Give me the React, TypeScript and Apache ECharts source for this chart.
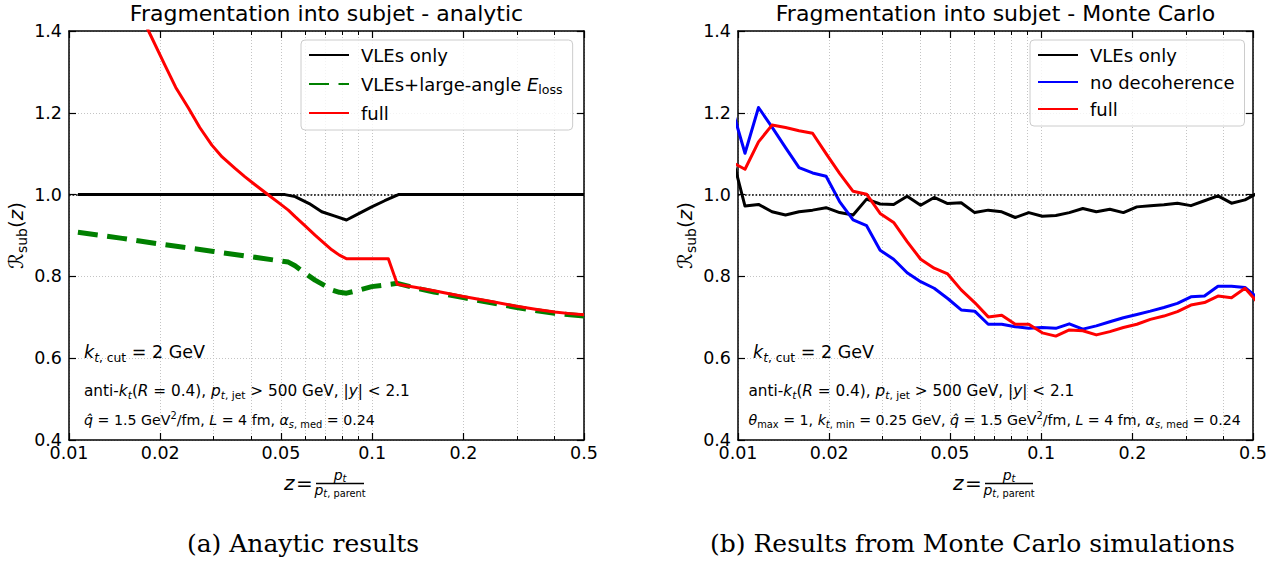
import React, { useEffect, useRef } from 'react';
import * as echarts from 'echarts';

const FONT = "'DejaVu Sans', 'Noto Sans', sans-serif";
const SERIF = "'DejaVu Serif', 'Liberation Serif', serif";

// ---------- axes ----------
const X_MIN = 0.01;
const X_MAX = 0.5;
const Y_MIN = 0.4;
const Y_MAX = 1.4;
const Y_STEP = 0.2;
const xMajorTicks = [0.01, 0.02, 0.05, 0.1, 0.2, 0.5];
const xMajorLabels = ['0.01', '0.02', '0.05', '0.1', '0.2', '0.5'];
const xMinorTicks = [0.03, 0.04, 0.06, 0.07, 0.08, 0.09, 0.3, 0.4];
const referenceLevel = 1.0;

// ---------- texts ----------
const titles = ['Fragmentation into subjet - analytic', 'Fragmentation into subjet - Monte Carlo'];
const captions = ['(a) Anaytic results', '(b) Results from Monte Carlo simulations'];
const legendAnalytic = ['VLEs only', 'VLEs+large-angle E_loss', 'full'];
const legendMC = ['VLEs only', 'no decoherence', 'full'];

// ---------- (a) analytic ----------
const anaVlesZ = [0.0107, 0.03, 0.0516, 0.0557, 0.062, 0.0682, 0.075, 0.0823, 0.09, 0.0997, 0.11, 0.1221, 0.25, 0.5];
const anaVlesR = [1.0, 1.0, 1.0, 0.995, 0.978, 0.958, 0.948, 0.938, 0.953, 0.97, 0.985, 1.0, 1.0, 1.0];

const anaLargeAngleZ = [0.0107, 0.015, 0.02, 0.03, 0.04, 0.0529, 0.0557, 0.06, 0.0648, 0.07, 0.0736, 0.078, 0.0823, 0.09, 0.0997, 0.1211, 0.14, 0.16, 0.2, 0.25, 0.3, 0.35, 0.4, 0.45, 0.5];
const anaLargeAngleR = [0.908, 0.893, 0.879, 0.861, 0.848, 0.835, 0.826, 0.808, 0.791, 0.777, 0.767, 0.761, 0.759, 0.766, 0.775, 0.783, 0.771, 0.762, 0.748, 0.735, 0.724, 0.716, 0.71, 0.706, 0.703];

const anaFullZ = [0.0107, 0.015, 0.0165, 0.0183, 0.0207, 0.0225, 0.0248, 0.027, 0.0296, 0.032, 0.0353, 0.038, 0.0411, 0.0455, 0.049, 0.0529, 0.0557, 0.06, 0.0648, 0.07, 0.0736, 0.078, 0.0825, 0.1131, 0.1211, 0.14, 0.16, 0.2, 0.25, 0.3, 0.35, 0.4, 0.45, 0.5];
const anaFullR = [1.8, 1.56, 1.47, 1.4, 1.317, 1.262, 1.211, 1.164, 1.121, 1.092, 1.064, 1.044, 1.024, 0.999, 0.981, 0.962, 0.946, 0.924, 0.901, 0.879, 0.865, 0.852, 0.843, 0.843, 0.781, 0.773, 0.765, 0.751, 0.738, 0.727, 0.719, 0.713, 0.709, 0.706];

// ---------- (b) Monte Carlo (log-spaced bins) ----------
const mcZ = [0.009517, 0.010546, 0.011686, 0.01295, 0.014349, 0.0159, 0.01762, 0.019525, 0.021632, 0.023972,
  0.026563, 0.029435, 0.032618, 0.036141, 0.040049, 0.044379, 0.049177, 0.054487, 0.060378, 0.066906,
  0.07414, 0.082156, 0.09103, 0.100879, 0.111786, 0.12388, 0.137258, 0.152105, 0.16855, 0.18678,
  0.206966, 0.229298, 0.254097, 0.281578, 0.312033, 0.345745, 0.383174, 0.42462, 0.470543, 0.521404];
const mcVles = [1.1, 0.972, 0.976, 0.958, 0.95, 0.958, 0.962, 0.968, 0.956, 0.95,
  0.989, 0.977, 0.976, 0.996, 0.974, 0.993, 0.978, 0.98, 0.956, 0.962,
  0.958, 0.944, 0.956, 0.947, 0.949, 0.956, 0.966, 0.958, 0.964, 0.956,
  0.97, 0.973, 0.975, 0.979, 0.973, 0.985, 0.997, 0.979, 0.987, 1.005];
const mcNoDecoherence = [1.215, 1.101, 1.213, 1.165, 1.115, 1.066, 1.053, 1.045, 0.983, 0.938,
  0.924, 0.864, 0.842, 0.809, 0.787, 0.771, 0.746, 0.718, 0.715, 0.683,
  0.683, 0.677, 0.673, 0.675, 0.673, 0.684, 0.671, 0.679, 0.689, 0.699,
  0.707, 0.715, 0.724, 0.734, 0.75, 0.752, 0.776, 0.776, 0.773, 0.746];
const mcFull = [1.08, 1.062, 1.129, 1.17, 1.164, 1.156, 1.15, 1.1, 1.052, 1.008,
  1.001, 0.954, 0.932, 0.885, 0.842, 0.82, 0.806, 0.767, 0.736, 0.701,
  0.705, 0.683, 0.683, 0.662, 0.654, 0.669, 0.667, 0.657, 0.665, 0.675,
  0.683, 0.695, 0.703, 0.714, 0.73, 0.736, 0.752, 0.748, 0.771, 0.734];

// ---------- layout ----------
const GRIDS = [
  { left: 69, top: 31, width: 515, height: 409 },
  { left: 738, top: 31, width: 515, height: 409 },
];

const pairs = (zs: number[], rs: number[]) => zs.map((z, i) => [Math.log10(z), rs[i]]);

function mathRich(F: number, colorKey: 'fill' | 'color') {
  const S = Math.round(F * 0.7 * 10) / 10;
  const pad = Math.round(F * 0.6);
  const base: any = { fontFamily: FONT };
  base[colorKey] = '#000';
  return {
    n: { ...base, fontSize: F },
    i: { ...base, fontSize: F, fontStyle: 'italic' },
    cal: { ...base, fontSize: F },
    s: { ...base, fontSize: S, lineHeight: S, padding: [pad, 0, 0, 0] },
    si: { ...base, fontSize: S, lineHeight: S, fontStyle: 'italic', padding: [pad, 0, 0, 0] },
    p: { ...base, fontSize: S, lineHeight: S, padding: [0, 0, pad, 0] },
  };
}

function txt(x: number, y: number, text: string, F: number, align = 'left', extra: any = {}, family = FONT) {
  return {
    type: 'text',
    x,
    y,
    silent: true,
    z: 100,
    ...extra,
    style: {
      text,
      fontSize: F,
      fontFamily: family,
      fill: '#000',
      align,
      verticalAlign: 'middle',
      rich: mathRich(F, 'fill'),
    },
  };
}

const App: React.FC = () => {
  const ref = useRef<HTMLDivElement>(null);

  useEffect(() => {
    document.body.style.margin = '0';
    if (!ref.current) return;
    const chart = echarts.init(ref.current, undefined, { renderer: 'svg' });

    const majors = xMajorTicks.map((v) => Math.log10(v));
    const minors = xMinorTicks.map((v) => Math.log10(v));
    const labelFor = (v: number) => {
      const i = majors.findIndex((m) => Math.abs(m - v) < 1e-6);
      return i >= 0 ? xMajorLabels[i] : '';
    };
    const splitLineStyle = { color: '#c4c4c4', width: 1, type: [1, 2] };
    const spine = { show: true, onZero: false, lineStyle: { color: '#000', width: 1.5 } };
    const majorTick = { show: true, inside: true, length: 7, customValues: majors, lineStyle: { color: '#000', width: 1.2 } };
    const minorTick = { show: true, inside: true, length: 4, customValues: minors, lineStyle: { color: '#000', width: 1 } };

    const xAxes: any[] = [];
    const yAxes: any[] = [];
    GRIDS.forEach((_, g) => {
      const common = { type: 'value', gridIndex: g, min: Math.log10(X_MIN), max: Math.log10(X_MAX) };
      xAxes.push(
        {
          ...common, position: 'bottom', axisLine: spine, axisTick: majorTick,
          axisLabel: { show: true, customValues: majors, margin: 4, fontSize: 17.5, fontFamily: FONT, color: '#000', formatter: labelFor },
          splitLine: { show: true, lineStyle: splitLineStyle },
        },
        {
          ...common, position: 'bottom', axisLine: { show: false }, axisTick: minorTick,
          axisLabel: { show: false }, splitLine: { show: true, lineStyle: splitLineStyle },
        },
        { ...common, position: 'top', axisLine: spine, axisTick: majorTick, axisLabel: { show: false }, splitLine: { show: false } },
        { ...common, position: 'top', axisLine: { show: false }, axisTick: minorTick, axisLabel: { show: false }, splitLine: { show: false } },
      );
      yAxes.push(
        {
          type: 'value', gridIndex: g, position: 'left', min: Y_MIN, max: Y_MAX, interval: Y_STEP,
          axisLine: spine,
          axisTick: { show: true, inside: true, length: 7, lineStyle: { color: '#000', width: 1.2 } },
          axisLabel: { show: true, margin: 7, fontSize: 17.5, fontFamily: FONT, color: '#000', formatter: (v: number) => v.toFixed(1) },
          splitLine: { show: true, lineStyle: splitLineStyle },
        },
        {
          type: 'value', gridIndex: g, position: 'right', min: Y_MIN, max: Y_MAX, interval: Y_STEP,
          axisLine: spine,
          axisTick: { show: true, inside: true, length: 7, lineStyle: { color: '#000', width: 1.2 } },
          axisLabel: { show: false }, splitLine: { show: false },
        },
      );
    });

    const refLine = {
      silent: true,
      symbol: ['none', 'none'],
      label: { show: false },
      emphasis: { disabled: true },
      lineStyle: { color: '#000', width: 1.7, type: [1.7, 1.8] },
      data: [{ yAxis: referenceLevel }],
    };

    const line = (name: string, g: number, zs: number[], rs: number[], color: string, width: number, type: any = 'solid', z = 3, withRef = false) => ({
      type: 'line',
      name,
      xAxisIndex: g * 4,
      yAxisIndex: g * 2,
      data: pairs(zs, rs),
      symbol: 'none',
      showSymbol: false,
      clip: true,
      z,
      lineStyle: { color, width, type, cap: 'butt', join: 'round' },
      itemStyle: { color },
      emphasis: { disabled: true },
      ...(withRef ? { markLine: refLine } : {}),
    });

    const series = [
      line(legendAnalytic[0], 0, anaVlesZ, anaVlesR, '#000000', 3, 'solid', 3, true),
      line(legendAnalytic[1], 0, anaLargeAngleZ, anaLargeAngleR, '#008000', 5, [20, 9.5], 4),
      line(legendAnalytic[2], 0, anaFullZ, anaFullR, '#ff0000', 3, 'solid', 5),
      line(legendMC[0], 1, mcZ, mcVles, '#000000', 3, 'solid', 3, true),
      line(legendMC[1], 1, mcZ, mcNoDecoherence, '#0000ff', 3, 'solid', 4),
      line(legendMC[2], 1, mcZ, mcFull, '#ff0000', 3, 'solid', 5),
    ];

    const legendRich = mathRich(18, 'color');
    const legendBase = {
      orient: 'vertical',
      top: 40,
      itemWidth: 40,
      itemHeight: 14,
      itemGap: 7,
      padding: [5, 10, 7, 7],
      backgroundColor: 'rgba(255,255,255,0.8)',
      borderColor: '#cccccc',
      borderWidth: 1,
      borderRadius: 4,
      selectedMode: false,
      itemStyle: { opacity: 0 },
      textStyle: { fontSize: 18, fontFamily: FONT, color: '#000', lineHeight: 20, padding: [0, 0, 0, 7], rich: legendRich },
      formatter: (name: string) => (name === legendAnalytic[1] ? '{n|VLEs+large-angle }{i|E}{s|loss}' : name),
      z: 20,
    };

    const graphics: any[] = [];
    GRIDS.forEach((gr, g) => {
      const cx = gr.left + gr.width / 2;
      const dx = gr.left - GRIDS[0].left;
      graphics.push(txt(cx, 13, titles[g], 22, 'center'));
      // y-axis name
      graphics.push(txt(gr.left - 53, gr.top + gr.height / 2, '{cal|ℛ}{s|sub}{n|(}{i|z}{n|)}', 20, 'center', { rotation: Math.PI / 2 }));
      // x-axis name: z = p_t / p_t,parent
      graphics.push(txt(284 + dx, 482.6, '{i|z}', 20, 'left'));
      graphics.push(txt(296 + dx, 482.6, '=', 20, 'left'));
      graphics.push({ type: 'line', silent: true, z: 100, shape: { x1: 316 + dx, y1: 483.5, x2: 364 + dx, y2: 483.5 }, style: { stroke: '#000', lineWidth: 1.3 } });
      graphics.push(txt(340 + dx, 474.8, '{i|p}{si|t}', 14, 'center'));
      graphics.push(txt(340 + dx, 489.8, '{i|p}{si|t}{s|, parent}', 14, 'center'));
    });
    // annotations (a)
    graphics.push(txt(84, 352.2, '{i|k}{si|t}{s|, cut}{n| = 2 GeV}', 17.5));
    graphics.push(txt(84, 391.3, '{n|anti-}{i|k}{si|t}{n|(}{i|R}{n| = 0.4), }{i|p}{si|t}{s|, jet}{n| > 500 GeV, |}{i|y}{n|| < 2.1}', 15.3));
    graphics.push(txt(84, 420, '{i|q̂}{n| = 1.5 GeV}{p|2}{n|/fm, }{i|L}{n| = 4 fm, }{i|α}{si|s}{s|, med}{n| = 0.24}', 14.2));
    // annotations (b)
    graphics.push(txt(753, 352.2, '{i|k}{si|t}{s|, cut}{n| = 2 GeV}', 17.5));
    graphics.push(txt(748.5, 391.3, '{n|anti-}{i|k}{si|t}{n|(}{i|R}{n| = 0.4), }{i|p}{si|t}{s|, jet}{n| > 500 GeV, |}{i|y}{n|| < 2.1}', 15.3));
    graphics.push(txt(748.5, 420, '{i|θ}{s|max}{n| = 1, }{i|k}{si|t}{s|, min}{n| = 0.25 GeV, }{i|q̂}{n| = 1.5 GeV}{p|2}{n|/fm, }{i|L}{n| = 4 fm, }{i|α}{si|s}{s|, med}{n| = 0.24}', 14.2));
    // captions
    graphics.push(txt(303, 543, captions[0], 25, 'center', {}, SERIF));
    graphics.push(txt(972.5, 543, captions[1], 25, 'center', {}, SERIF));

    chart.setOption({
      animation: false,
      backgroundColor: '#ffffff',
      grid: GRIDS.map((g) => ({ ...g, containLabel: false })),
      xAxis: xAxes,
      yAxis: yAxes,
      legend: [
        { ...legendBase, left: 301, data: legendAnalytic },
        { ...legendBase, left: 1030, data: legendMC },
      ],
      series,
      graphic: graphics,
    });

    return () => {
      chart.dispose();
    };
  }, []);

  return <div ref={ref} style={{ width: 1283, height: 567 }} />;
};

export default App;
